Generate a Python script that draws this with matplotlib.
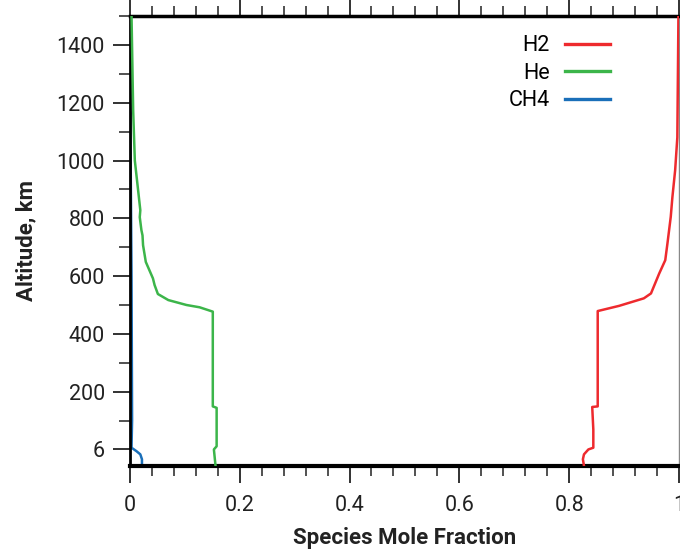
import matplotlib
matplotlib.use("Agg")
import matplotlib.pyplot as plt
from matplotlib.ticker import MultipleLocator

# altitude (km) and mole fractions
he_alt = [1500, 1172, 1000, 897, 828, 804, 759, 741, 707, 649, 592, 569, 538, 517, 500, 492, 477, 149, 144, 11, 0, -57]
he_frac = [0.003, 0.006, 0.009, 0.015, 0.019, 0.018, 0.021, 0.023, 0.024, 0.029, 0.042, 0.045, 0.051, 0.070,
           0.103, 0.127, 0.151, 0.151, 0.158, 0.158, 0.153, 0.156]

h2_alt = [1500, 1080, 966, 873, 805, 759, 713, 655, 609, 540, 523, 497, 479, 149, 147, 69, 6, 0, -17, -34, -57]
h2_frac = [0.999, 0.997, 0.993, 0.988, 0.985, 0.982, 0.979, 0.975, 0.964, 0.949, 0.936, 0.891, 0.852,
           0.852, 0.842, 0.844, 0.844, 0.835, 0.827, 0.825, 0.827]

ch4_alt = [1500, 1100, 600, 100, 6, -6, -17, -34, -57]
ch4_frac = [0.0, 0.001, 0.003, 0.004, 0.003, 0.012, 0.019, 0.022, 0.022]

y_ticks = [0, 200, 400, 600, 800, 1000, 1200, 1400]
y_labels = ["6", "200", "400", "600", "800", "1000", "1200", "1400"]
x_ticks = [0, 0.2, 0.4, 0.6, 0.8, 1.0]
x_labels = ["0", "0.2", "0.4", "0.6", "0.8", "1"]

plt.rcParams["font.family"] = ["Roboto", "DejaVu Sans"]

fig = plt.figure(figsize=(6.8, 5.54), dpi=100)
ax = fig.add_axes([0.191, 0.159, 0.8075, 0.812])

ax.plot(h2_frac, h2_alt, color="#ee2a2e", lw=1.8, label="H2", zorder=3)
ax.plot(he_frac, he_alt, color="#3cb54a", lw=1.8, label="He", zorder=3)
ax.plot(ch4_frac, ch4_alt, color="#1a6fb9", lw=1.8, label="CH4", zorder=2)

ax.set_xlim(0, 1)
ax.set_ylim(-57, 1500)

ax.set_xticks(x_ticks)
ax.set_xticklabels(x_labels)
ax.set_yticks(y_ticks)
ax.set_yticklabels(y_labels)
ax.xaxis.set_minor_locator(MultipleLocator(0.04))
ax.yaxis.set_minor_locator(MultipleLocator(100))

ax.tick_params(axis="x", which="both", direction="out", top=True, bottom=True,
               labelsize=15.5, pad=9, colors="#222222")
ax.tick_params(axis="x", which="major", length=12, width=1.3)
ax.tick_params(axis="x", which="minor", length=7, width=1.1)
ax.tick_params(axis="y", which="both", direction="out", left=True, right=False,
               labelsize=15.5, pad=6, colors="#222222")
ax.tick_params(axis="y", which="major", length=12, width=1.3)
ax.tick_params(axis="y", which="minor", length=8, width=1.1)

for side, lw in [("left", 2.0), ("bottom", 3.0), ("top", 2.5)]:
    ax.spines[side].set_linewidth(lw)
    ax.spines[side].set_color("black")
ax.spines["right"].set_linewidth(1.0)
ax.spines["right"].set_color("#888888")

ax.set_xlabel("Species Mole Fraction", fontsize=16, fontweight="bold", labelpad=8, color="#222222")
ax.set_ylabel("Altitude, km", fontsize=16, fontweight="bold", labelpad=14, color="#222222")

leg = ax.legend(loc="upper right", bbox_to_anchor=(0.91, 1.0), frameon=False, markerfirst=False,
                fontsize=15.5, handlelength=2.1, handletextpad=0.7, labelspacing=0.3)
for t in leg.get_texts():
    t.set_ha("right")
for h in leg.get_lines():
    h.set_linewidth(2.4)

fig.savefig("out.png", dpi=100)
